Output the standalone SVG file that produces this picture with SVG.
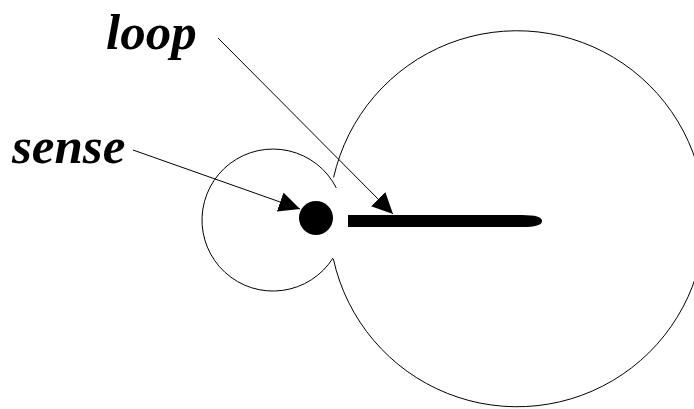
<svg xmlns="http://www.w3.org/2000/svg" width="694" height="409" viewBox="0 0 694 409">
<style>
.lbl{font-family:"Liberation Serif","Times New Roman",serif;font-weight:bold;font-style:italic;font-size:51px;fill:#000}
.ln{fill:none;stroke:#000;stroke-width:1}
</style>
<defs>
<marker id="ah" viewBox="0 0 21 20" refX="21" refY="10" markerWidth="21" markerHeight="20" markerUnits="userSpaceOnUse" orient="auto">
<path d="M0,0 L21,10 L0,20 Z" fill="#000"/>
</marker>
</defs>
<rect width="694" height="409" fill="#fff"/>
<g id="loop-circle"><path class="ln" d="M333.6,177.5 A188,188 0 1 1 333.4,259.1"/></g>
<g id="sense-circle"><path class="ln" d="M336.3,187.9 A71,71 0 1 0 333,258"/></g>
<g id="sense-dot"><circle cx="316" cy="218" r="17" fill="#000"/></g>
<g id="loop-bar"><path d="M348,215 L522,215 Q542,215 542,221 Q542,227 522,227 L348,227 Z" fill="#000"/></g>
<g id="label-loop"><text class="lbl" x="106" y="49">loop</text></g>
<g id="label-sense"><text class="lbl" x="12" y="163">sense</text></g>
<g id="connectors">
<line class="ln" x1="218" y1="38" x2="393" y2="214" marker-end="url(#ah)"/>
<line class="ln" x1="133" y1="150" x2="300" y2="209" marker-end="url(#ah)"/>
</g>
</svg>
